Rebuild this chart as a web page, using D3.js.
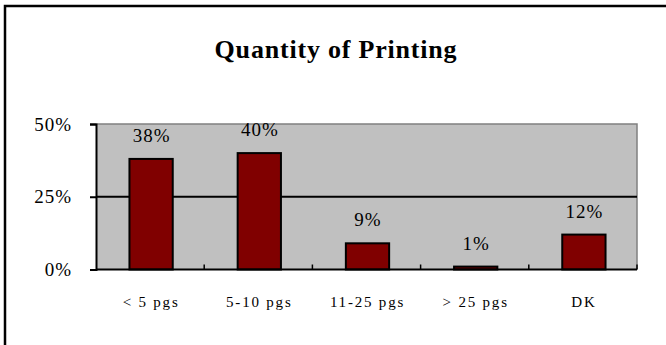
<!DOCTYPE html>
<html>
<head>
<meta charset="utf-8">
<script src="https://cdn.jsdelivr.net/npm/d3@7"></script>
<style>
  html, body { margin: 0; padding: 0; background: #fff; }
  svg { display: block; }
  text { font-family: "Liberation Serif", "Times New Roman", serif; fill: #000; }
</style>
</head>
<body>
<svg id="chart" width="666" height="345"></svg>
<script>
// Survey answers: how many pages are printed
const categories = ["< 5 pgs", "5-10 pgs", "11-25 pgs", "> 25 pgs", "DK"];
const shares = [38, 40, 9, 1, 12];
const yTicks = [0, 25, 50];
const chartTitle = "Quantity of Printing";

const svg = d3.select("#chart");
const W = 666, H = 345;
const plot = { left: 96, right: 637, top: 124, bottom: 269.5 };

// outer frame (runs past the right and bottom edges)
svg.append("rect")
  .attr("x", 5).attr("y", 6)
  .attr("width", W + 10).attr("height", H + 10)
  .attr("fill", "none").attr("stroke", "#000").attr("stroke-width", 2.5);

svg.append("text")
  .attr("x", 336).attr("y", 58)
  .attr("text-anchor", "middle")
  .attr("font-size", 26).attr("font-weight", "bold")
  .attr("letter-spacing", 0.8)
  .text(chartTitle);

const x = d3.scaleBand().domain(categories)
  .range([plot.left, plot.right]).paddingInner(0).paddingOuter(0);
const y = d3.scaleLinear().domain([0, 50]).range([plot.bottom, plot.top]);

// plot background
svg.append("rect")
  .attr("x", plot.left).attr("y", plot.top)
  .attr("width", plot.right - plot.left).attr("height", plot.bottom - plot.top)
  .attr("fill", "#c0c0c0");

// plot border top/right in gray
svg.append("path")
  .attr("d", `M${plot.left},${plot.top}H${plot.right}V${plot.bottom}`)
  .attr("fill", "none").attr("stroke", "#808080").attr("stroke-width", 1.5);

// inner gridlines
svg.selectAll("line.grid").data(yTicks.filter(d => d > 0 && d < 50)).join("line")
  .attr("class", "grid")
  .attr("x1", plot.left).attr("x2", plot.right)
  .attr("y1", d => y(d)).attr("y2", d => y(d))
  .attr("stroke", "#000").attr("stroke-width", 2);

// bars
const barW = x.bandwidth() * 0.4;
svg.selectAll("rect.bar").data(shares).join("rect")
  .attr("class", "bar")
  .attr("x", (d, i) => x(categories[i]) + x.bandwidth() / 2 - barW / 2 + 1)
  .attr("width", barW)
  .attr("y", d => y(d))
  .attr("height", d => y(0) - y(d))
  .attr("fill", "#800000").attr("stroke", "#000").attr("stroke-width", 2);

// value labels
svg.selectAll("text.val").data(shares).join("text")
  .attr("class", "val")
  .attr("x", (d, i) => x(categories[i]) + x.bandwidth() / 2 + 1.5)
  .attr("y", d => y(d) - 17)
  .attr("text-anchor", "middle")
  .attr("font-size", 19)
  .attr("letter-spacing", 1)
  .text(d => d + "%");

// y axis
const yAxis = d3.axisLeft(y).tickValues(yTicks).tickFormat(d => d + "%").tickSize(6).tickPadding(18);
const gy = svg.append("g").attr("transform", `translate(${plot.left},0)`).call(yAxis);
gy.select(".domain").attr("stroke", "#000").attr("stroke-width", 2);
gy.selectAll(".tick line").attr("stroke", "#000").attr("stroke-width", 2);
gy.selectAll(".tick text").attr("font-size", 19)
  .attr("font-family", "'Liberation Serif', serif").attr("fill", "#000")
  .attr("letter-spacing", 1).attr("dy", "0.32em");

// x axis: category boundary ticks point up into the plot
const gx = svg.append("g").attr("transform", `translate(0,${plot.bottom})`);
gx.append("line")
  .attr("x1", plot.left).attr("x2", plot.right)
  .attr("stroke", "#000").attr("stroke-width", 2);
gx.selectAll("line.tk").data(categories.slice(1).concat([null])).join("line")
  .attr("class", "tk")
  .attr("x1", (d, i) => plot.left + x.bandwidth() * (i + 1))
  .attr("x2", (d, i) => plot.left + x.bandwidth() * (i + 1))
  .attr("y1", 0).attr("y2", -5)
  .attr("stroke", "#000").attr("stroke-width", 1.5);
gx.selectAll("text.cat").data(categories).join("text")
  .attr("class", "cat")
  .attr("x", d => x(d) + x.bandwidth() / 2 + 1)
  .attr("y", 37)
  .attr("text-anchor", "middle")
  .attr("font-size", 15)
  .attr("letter-spacing", 1.8)
  .text(d => d);
</script>
</body>
</html>
